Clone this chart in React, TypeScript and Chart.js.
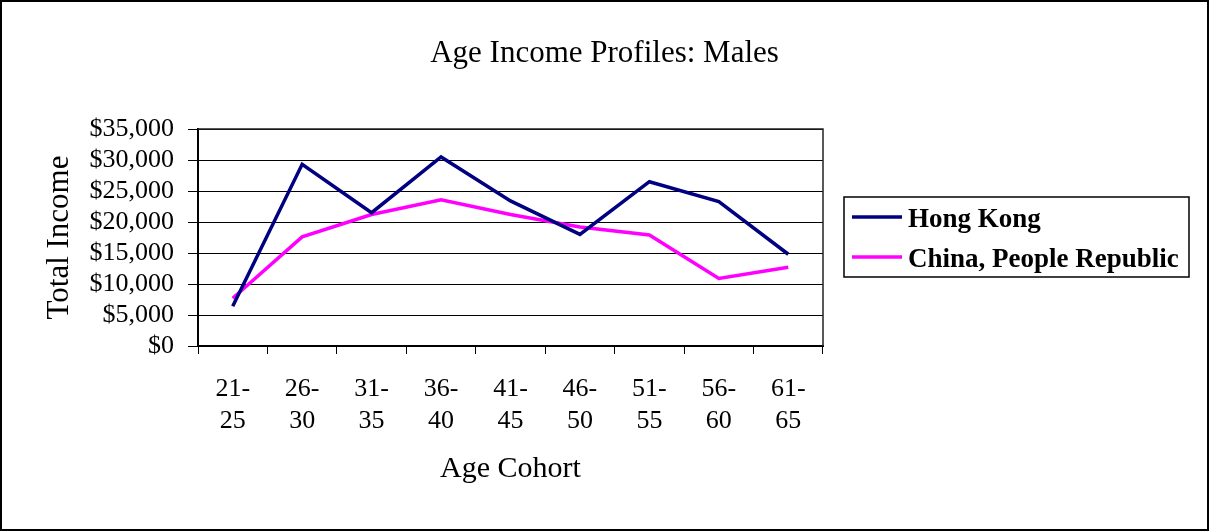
import React, { useEffect, useRef } from "react";
import { Chart, registerables } from "chart.js";

Chart.register(...registerables);

const categories: string[][] = [
  ["21-", "25"], ["26-", "30"], ["31-", "35"], ["36-", "40"], ["41-", "45"],
  ["46-", "50"], ["51-", "55"], ["56-", "60"], ["61-", "65"],
];
const hongKong: number[] = [6400, 29300, 21500, 30500, 23400, 18000, 26500, 23300, 14800];
const china: number[] = [7700, 17600, 21200, 23600, 21200, 19200, 17900, 10900, 12700];
const seriesNames: string[] = ["Hong Kong", "China, People Republic"];
const seriesColors: string[] = ["#000080", "#FF00FF"];
const chartTitle = "Age Income Profiles: Males";
const xTitle = "Age Cohort";
const yTitle = "Total Income";

const SERIF = "'Liberation Serif', 'Times New Roman', serif";

const framePlugin = {
  id: "frame",
  afterDraw(chart: any) {
    const ctx = chart.ctx;
    const a = chart.chartArea;
    ctx.save();
    // outer border
    ctx.strokeStyle = "#000";
    ctx.lineWidth = 2;
    ctx.strokeRect(1, 1, chart.width - 2, chart.height - 2);
    // title
    ctx.fillStyle = "#000";
    ctx.font = `31px ${SERIF}`;
    ctx.textAlign = "center";
    ctx.textBaseline = "alphabetic";
    ctx.fillText(chartTitle, chart.width / 2, 62);
    // plot area top/right border
    ctx.strokeStyle = "#222";
    ctx.lineWidth = 1.5;
    ctx.beginPath();
    ctx.moveTo(a.left, a.top);
    ctx.lineTo(a.right, a.top);
    ctx.lineTo(a.right, a.bottom);
    ctx.stroke();
    // legend
    const lx = 844, ly = 197, lw = 345, lh = 80;
    ctx.strokeStyle = "#000";
    ctx.lineWidth = 1.5;
    ctx.strokeRect(lx, ly, lw, lh);
    chart.data.datasets.forEach((ds: any, i: number) => {
      const y = 217 + i * 40;
      ctx.strokeStyle = ds.borderColor;
      ctx.lineWidth = 3.5;
      ctx.beginPath();
      ctx.moveTo(852, y);
      ctx.lineTo(902, y);
      ctx.stroke();
      ctx.fillStyle = "#000";
      ctx.font = `bold 27px ${SERIF}`;
      ctx.textBaseline = "alphabetic";
      ctx.textAlign = "left";
      ctx.fillText(ds.label, 908, y + 10);
    });
    ctx.restore();
  },
};

export default function App() {
  const ref = useRef<HTMLCanvasElement>(null);
  useEffect(() => {
    document.body.style.margin = "0";
    const chart = new Chart(ref.current!, {
      type: "line",
      data: {
        labels: categories,
        datasets: [
          {
            label: seriesNames[0],
            data: hongKong,
            borderColor: seriesColors[0],
            backgroundColor: seriesColors[0],
            borderWidth: 3.5,
            pointRadius: 0,
            tension: 0,
          },
          {
            label: seriesNames[1],
            data: china,
            borderColor: seriesColors[1],
            backgroundColor: seriesColors[1],
            borderWidth: 3.5,
            pointRadius: 0,
            tension: 0,
          },
        ],
      },
      options: {
        responsive: false,
        animation: false,
        layout: { padding: { left: 20, right: 386, top: 129, bottom: 20 } },
        plugins: {
          legend: { display: false },
          tooltip: { enabled: false },
          title: { display: false },
        },
        scales: {
          x: {
            type: "category",
            offset: true,
            grid: {
              offset: true,
              drawOnChartArea: false,
              drawTicks: true,
              tickLength: 8,
              color: "#000",
            },
            border: { display: true, color: "#000", width: 2 },
            ticks: {
              color: "#000",
              font: { family: SERIF, size: 26 },
              padding: 20,
              maxRotation: 0,
              autoSkip: false,
            },
            title: {
              display: true,
              text: xTitle,
              color: "#000",
              font: { family: SERIF, size: 30 },
              padding: { top: 0, bottom: 24 },
            },
            afterFit(scale: any) {
              scale.height = 165;
            },
          },
          y: {
            min: 0,
            max: 35000,
            grid: {
              color: "#000",
              lineWidth: 1,
              drawTicks: true,
              tickLength: 10,
            },
            border: { display: true, color: "#000", width: 2 },
            ticks: {
              stepSize: 5000,
              autoSkip: false,
              color: "#000",
              font: { family: SERIF, size: 26 },
              padding: 14,
              callback: (v: any) => "$" + Number(v).toLocaleString("en-US"),
            },
            title: {
              display: true,
              text: yTitle,
              color: "#000",
              font: { family: SERIF, size: 31 },
              padding: { top: 21, bottom: 0 },
            },
            afterFit(scale: any) {
              scale.width = 178;
            },
          },
        },
      } as any,
      plugins: [framePlugin],
    });
    return () => chart.destroy();
  }, []);
  return (
    <div style={{ width: 1209, height: 531, background: "#fff" }}>
      <canvas ref={ref} width={1209} height={531} style={{ display: "block" }} />
    </div>
  );
}
